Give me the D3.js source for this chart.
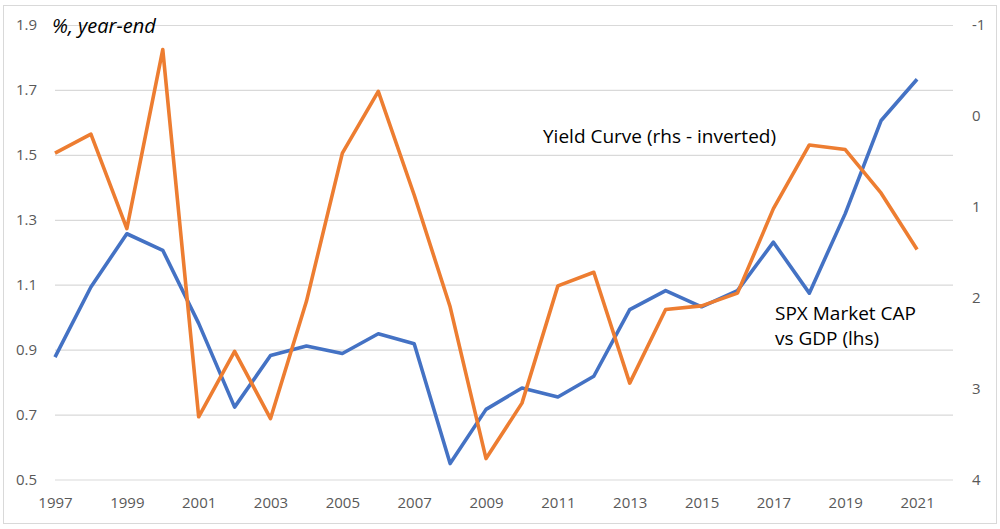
<!DOCTYPE html>
<html>
<head>
<meta charset="utf-8">
<script src="https://cdn.jsdelivr.net/npm/d3@7"></script>
<style>
  body { margin: 0; background: #fff; }
  svg { display: block; }
  .tick text { font-family: "Open Sans", sans-serif; font-size: 15px; fill: #595959; }
</style>
</head>
<body>
<svg id="chart" width="1000" height="529"></svg>
<script>
// categories (year-end); 2022 left empty as in the source sheet
var years = [1997, 1998, 1999, 2000, 2001, 2002, 2003, 2004, 2005, 2006, 2007, 2008, 2009,
             2010, 2011, 2012, 2013, 2014, 2015, 2016, 2017, 2018, 2019, 2020, 2021];

// SPX market cap vs GDP (lhs)
var spxMcapGdp = [0.877, 1.093, 1.257, 1.206, 0.981, 0.723, 0.882, 0.911, 0.888, 0.949, 0.918, 0.549, 0.716,
                  0.782, 0.754, 0.818, 1.023, 1.082, 1.032, 1.082, 1.231, 1.074, 1.319, 1.606, 1.733];

// yield curve (rhs, inverted)
var yieldCurve = [0.41, 0.20, 1.24, -0.73, 3.31, 2.59, 3.33, 2.04, 0.41, -0.27, 0.87, 2.10, 3.77,
                  3.16, 1.87, 1.72, 2.94, 2.13, 2.09, 1.95, 1.02, 0.32, 0.37, 0.85, 1.47];

var leftTicks = [0.5, 0.7, 0.9, 1.1, 1.3, 1.5, 1.7, 1.9];
var rightTicks = [-1, 0, 1, 2, 3, 4];
var xTickYears = [1997, 1999, 2001, 2003, 2005, 2007, 2009, 2011, 2013, 2015, 2017, 2019, 2021];

var svg = d3.select("#chart");

// plot area edges (don't use "top", it's window.top)
var plotLeft = 55, plotRight = 953, plotTop = 25, plotBottom = 479.5;

var xScale = d3.scaleLinear().domain([1997, 2022]).range([plotLeft, plotRight]);
var yLeft = d3.scaleLinear().domain([0.5, 1.9]).range([plotBottom, plotTop]);
var yRight = d3.scaleLinear().domain([-1, 4]).range([plotTop, plotBottom]);

// outer border
svg.append("rect")
    .attr("x", 3.5).attr("y", 5.5)
    .attr("width", 993).attr("height", 518)
    .attr("fill", "none")
    .attr("stroke", "#d9d9d9")
    .attr("stroke-width", 1);

// gridlines + left labels
var leftAxis = svg.append("g")
    .attr("transform", "translate(" + plotLeft + ",0)")
    .call(d3.axisLeft(yLeft)
        .tickValues(leftTicks)
        .tickSize(-(plotRight - plotLeft))
        .tickPadding(18)
        .tickFormat(d3.format(".1f")));
leftAxis.select(".domain").remove();
leftAxis.selectAll("line").attr("stroke", "#d9d9d9").attr("stroke-width", 1.2);

// right labels (inverted) - plain hyphen like excel, not unicode minus
var rightAxis = svg.append("g")
    .attr("transform", "translate(" + plotRight + ",0)")
    .call(d3.axisRight(yRight)
        .tickValues(rightTicks)
        .tickSize(0)
        .tickPadding(19)
        .tickFormat(function (d) { return String(d); }));
rightAxis.select(".domain").remove();

// x labels
var xAxis = svg.append("g")
    .attr("transform", "translate(0," + plotBottom + ")")
    .call(d3.axisBottom(xScale)
        .tickValues(xTickYears)
        .tickSize(0)
        .tickPadding(18)
        .tickFormat(d3.format("d")));
xAxis.select(".domain").remove();

// lines
var blueLine = d3.line()
    .x(function (d, i) { return xScale(years[i]); })
    .y(function (d) { return yLeft(d); });

var orangeLine = d3.line()
    .x(function (d, i) { return xScale(years[i]); })
    .y(function (d) { return yRight(d); });

svg.append("path")
    .datum(spxMcapGdp)
    .attr("d", blueLine)
    .attr("fill", "none")
    .attr("stroke", "#4472C4")
    .attr("stroke-width", 3.6)
    .attr("stroke-linejoin", "round");

svg.append("path")
    .datum(yieldCurve)
    .attr("d", orangeLine)
    .attr("fill", "none")
    .attr("stroke", "#ED7D31")
    .attr("stroke-width", 3.6)
    .attr("stroke-linejoin", "round");

// annotations
svg.append("text")
    .attr("x", 52).attr("y", 33)
    .style("font-family", "'Open Sans', sans-serif")
    .style("font-size", "20px")
    .style("font-style", "italic")
    .style("fill", "#000")
    .text("%, year-end");

svg.append("text")
    .attr("x", 543).attr("y", 143)
    .style("font-family", "'Open Sans', sans-serif")
    .style("font-size", "19px")
    .style("fill", "#000")
    .text("Yield Curve (rhs - inverted)");

var spxLabel = svg.append("text")
    .attr("x", 775).attr("y", 320)
    .style("font-family", "'Open Sans', sans-serif")
    .style("font-size", "19px")
    .style("fill", "#000");
spxLabel.append("tspan").attr("x", 775).text("SPX Market CAP");
spxLabel.append("tspan").attr("x", 775).attr("dy", 25).text("vs GDP (lhs)");
</script>
</body>
</html>
